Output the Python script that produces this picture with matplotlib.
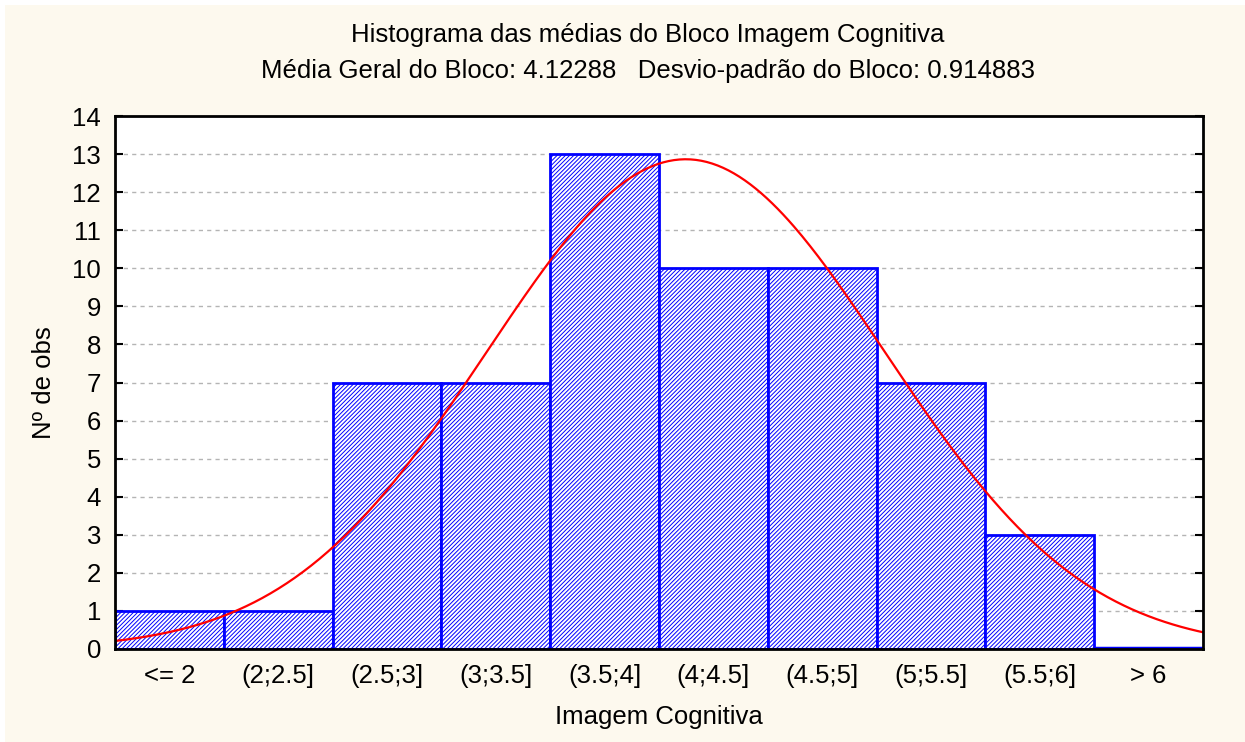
import matplotlib
matplotlib.use("Agg")
import matplotlib.pyplot as plt
import numpy as np

plt.rcParams['font.family'] = ['Liberation Sans', 'DejaVu Sans']
plt.rcParams['hatch.linewidth'] = 0.7

bin_labels = ['<= 2', '(2;2.5]', '(2.5;3]', '(3;3.5]', '(3.5;4]',
              '(4;4.5]', '(4.5;5]', '(5;5.5]', '(5.5;6]', '> 6']
bin_lefts = [1.5, 2.0, 2.5, 3.0, 3.5, 4.0, 4.5, 5.0, 5.5, 6.0]
counts = [1, 1, 7, 7, 13, 10, 10, 7, 3, 0]
media = 4.12288
desvio = 0.914883
width = 0.5

fig = plt.figure(figsize=(12.45, 7.42), dpi=100, facecolor='#fdf9ee')
# thin white strips along the top and left edges
fig.patches.append(plt.Rectangle((0, 1 - 5 / 742), 1, 5 / 742, transform=fig.transFigure,
                                 facecolor='white', edgecolor='none', zorder=-10))
fig.patches.append(plt.Rectangle((0, 0), 5 / 1245, 1, transform=fig.transFigure,
                                 facecolor='white', edgecolor='none', zorder=-10))
ax = fig.add_axes([115 / 1245, 1 - 649 / 742, 1088 / 1245, 533 / 742])
ax.set_facecolor('white')

ax.bar(bin_lefts, counts, width=width, align='edge', facecolor='white',
       edgecolor='#0000ff', hatch='////////', linewidth=2, zorder=3)
# zero-height bar is drawn as a blue line
for l, c in zip(bin_lefts, counts):
    if c == 0:
        ax.plot([l, l + width], [0.03, 0.03], color='#0000ff', lw=2.5, zorder=4)

n = sum(counts)
xs = np.linspace(bin_lefts[0], bin_lefts[-1] + width, 400)
ys = n * width / (desvio * np.sqrt(2 * np.pi)) * np.exp(-0.5 * ((xs - media) / desvio) ** 2)
ax.plot(xs, ys, color='#ff0000', lw=1.6, zorder=5)

ax.set_xlim(bin_lefts[0], bin_lefts[-1] + width)
ax.set_ylim(0, 14)
ax.set_yticks(range(0, 15))
ax.set_xticks([l + width / 2 for l in bin_lefts])
ax.set_xticklabels(bin_labels)
ax.tick_params(axis='x', length=0, labelsize=18.5, pad=11)
ax.tick_params(axis='y', direction='in', right=True, length=6, width=1.5,
               labelsize=18.5, pad=10)
ax.yaxis.grid(True, linestyle=(0, (3, 3)), color='#b4b4b4', lw=1, zorder=0)
for s in ax.spines.values():
    s.set_linewidth(2)
    s.set_zorder(6)

ax.set_xlabel('Imagem Cognitiva', fontsize=18.5, labelpad=12)
ax.set_ylabel('Nº de obs', fontsize=18.5, labelpad=12)

cx = 648 / 1245
fig.text(cx, 1 - 35 / 742, 'Histograma das médias do Bloco Imagem Cognitiva',
         ha='center', va='center', fontsize=18.5)
fig.text(cx, 1 - 71 / 742,
         'Média Geral do Bloco: 4.12288   Desvio-padrão do Bloco: 0.914883',
         ha='center', va='center', fontsize=18.5)

fig.savefig('out.png', dpi=100, facecolor=fig.get_facecolor())
